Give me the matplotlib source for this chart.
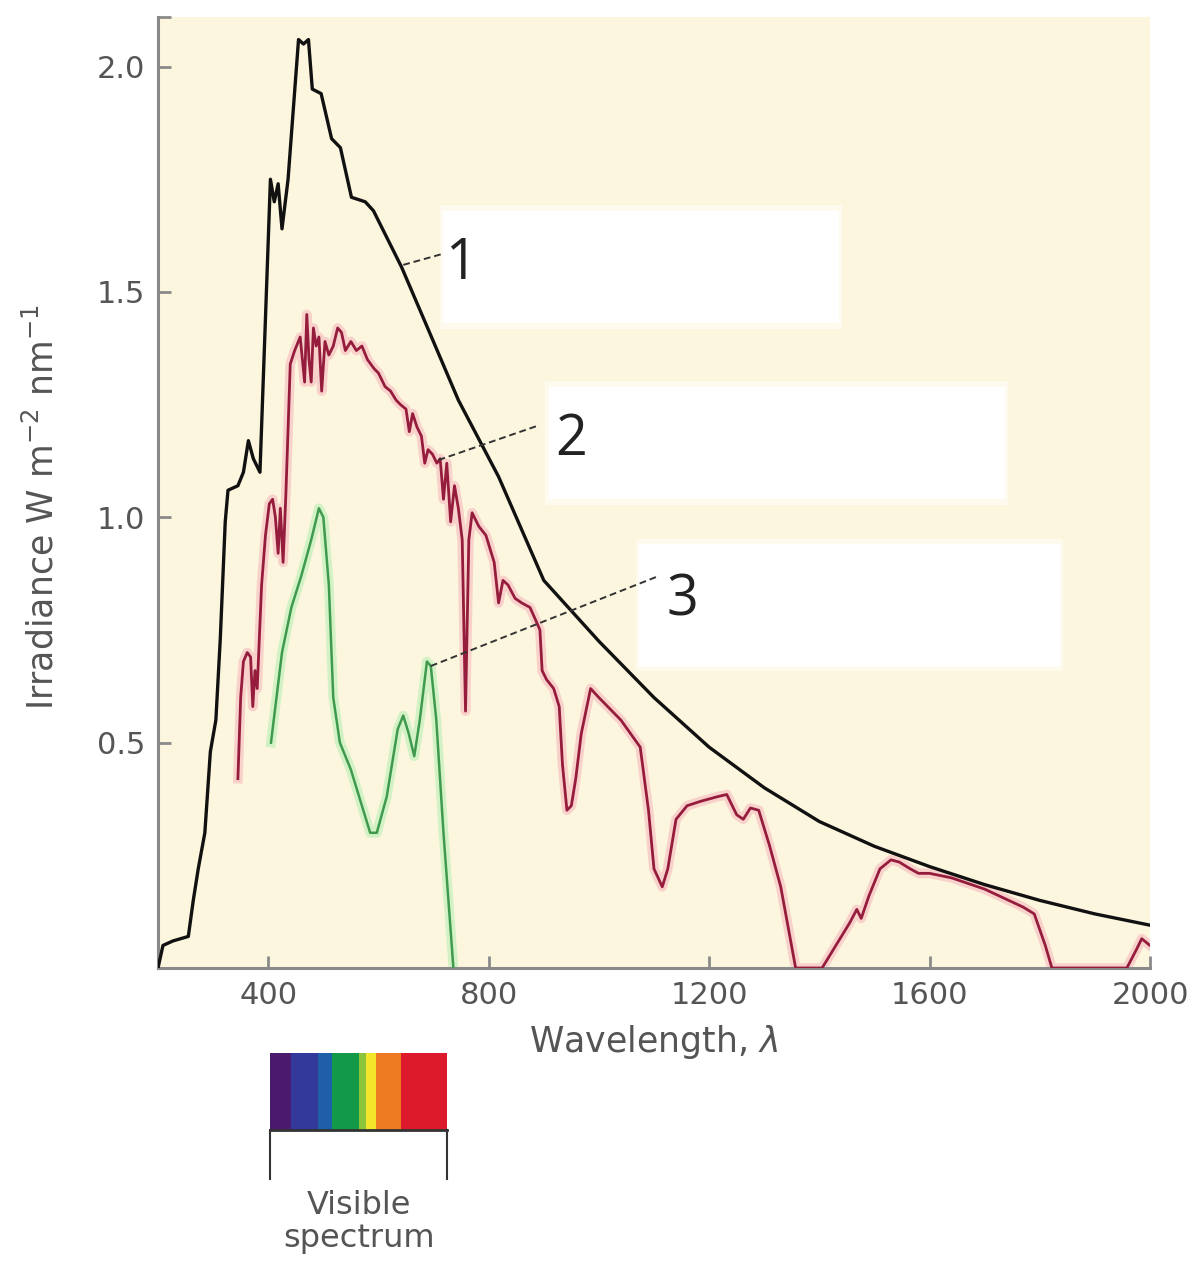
import matplotlib
matplotlib.use('Agg')
import matplotlib.pyplot as plt
from matplotlib.patches import Rectangle

# curve 1 - top of atmosphere
wl_1 = [200, 209, 227, 255, 264, 273, 285, 295, 305, 313, 322, 327, 345, 355, 364, 373, 385,
        404, 411, 418, 425, 436, 455, 464, 473, 480, 496, 515, 531, 551, 576, 591, 642, 691,
        745, 818, 900, 1000, 1100, 1200, 1300, 1400, 1500, 1600, 1700, 1800, 1900, 2000]
irr_1 = [0.0, 0.05, 0.06, 0.07, 0.15, 0.22, 0.30, 0.48, 0.55, 0.73, 0.99, 1.06, 1.07, 1.10, 1.17, 1.13, 1.10,
         1.75, 1.70, 1.74, 1.64, 1.75, 2.06, 2.05, 2.06, 1.95, 1.94, 1.84, 1.82, 1.71, 1.70, 1.68, 1.555, 1.415,
         1.26, 1.09, 0.86, 0.725, 0.60, 0.49, 0.40, 0.325, 0.27, 0.225, 0.185, 0.15, 0.12, 0.095]

# curve 2 - sea level
wl_2 = [345, 350, 355, 362, 368, 372, 376, 380, 388, 395, 402, 408, 413, 418, 422, 427, 432, 440,
        448, 458, 466, 470, 474, 478, 482, 487, 492, 497, 503, 510, 518, 526, 533, 540, 550, 560,
        570, 580, 592, 600, 612, 622, 632, 640, 650, 656, 662, 670, 678, 684, 690, 698, 706, 712,
        718, 724, 731, 738, 745, 752, 758, 764, 770, 782, 795, 810, 818, 826, 835, 848, 860, 875,
        886, 893, 897, 905, 918, 928, 934, 942, 950, 958, 968, 985, 1000, 1040, 1075, 1090, 1100,
        1115, 1125, 1140, 1160, 1185, 1215, 1232, 1250, 1262, 1275, 1290, 1310, 1330, 1345, 1357,
        1405, 1430, 1455, 1468, 1476, 1490, 1510, 1530, 1545, 1565, 1580, 1600, 1640, 1700, 1770,
        1790, 1810, 1822, 1958, 1975, 1985, 2000]
irr_2 = [0.42, 0.60, 0.68, 0.70, 0.69, 0.58, 0.66, 0.62, 0.85, 0.96, 1.03, 1.04, 1.00, 0.92, 1.02, 0.90, 1.05, 1.34,
         1.37, 1.40, 1.30, 1.45, 1.35, 1.30, 1.42, 1.38, 1.40, 1.28, 1.39, 1.36, 1.38, 1.42, 1.41, 1.37, 1.39, 1.37,
         1.38, 1.35, 1.33, 1.32, 1.29, 1.28, 1.26, 1.25, 1.24, 1.19, 1.23, 1.20, 1.18, 1.12, 1.15, 1.14, 1.12, 1.13,
         1.04, 1.12, 0.99, 1.07, 1.02, 0.95, 0.57, 0.95, 1.01, 0.98, 0.96, 0.90, 0.81, 0.86, 0.85, 0.82, 0.81, 0.80,
         0.77, 0.75, 0.66, 0.64, 0.62, 0.58, 0.45, 0.35, 0.36, 0.42, 0.52, 0.62, 0.60, 0.55, 0.49, 0.35, 0.22,
         0.18, 0.22, 0.33, 0.36, 0.37, 0.38, 0.385, 0.34, 0.33, 0.355, 0.35, 0.27, 0.18, 0.08, 0.0,
         0.0, 0.05, 0.10, 0.13, 0.11, 0.16, 0.22, 0.24, 0.235, 0.22, 0.21, 0.21, 0.20, 0.175, 0.135,
         0.12, 0.05, 0.0, 0.0, 0.04, 0.065, 0.05]

# curve 3 - under water
wl_3 = [405, 425, 442, 460, 478, 492, 500, 510, 518, 530, 550, 570, 585, 597, 615, 635, 645, 655,
        665, 675, 688, 695, 705, 718, 736]
irr_3 = [0.50, 0.70, 0.80, 0.87, 0.95, 1.02, 1.00, 0.85, 0.60, 0.50, 0.44, 0.36, 0.30, 0.30, 0.38, 0.53, 0.56, 0.52,
         0.47, 0.55, 0.68, 0.67, 0.55, 0.30, 0.0]

x_ticks = [400, 800, 1200, 1600, 2000]
y_ticks = [0.5, 1.0, 1.5, 2.0]

# label boxes (whited out in the original) and callouts
boxes = [(718, 1.43, 1436, 1.68), (909, 1.04, 1736, 1.29), (1073, 0.67, 1836, 0.94)]
labels = ['1', '2', '3']
leader_from = [(645, 1.56), (709, 1.127), (695, 0.67)]
leader_to = [(718, 1.585), (891, 1.204), (1109, 0.87)]
label_pos = [(750, 1.56), (950, 1.17), (1152, 0.815)]

# visible spectrum strip
spec_edges = [404, 441, 490, 516, 564, 577, 596, 641, 724]
spec_colors = ['#4a1a6e', '#33399a', '#1f5fa8', '#129a48', '#8cc43c', '#f2e52a', '#ee7a22', '#dc1a2c']

fig = plt.figure(figsize=(12.01, 12.69), dpi=100)
ax = fig.add_axes([158 / 1201, 1 - 968 / 1269, (1150 - 158) / 1201, (968 - 17) / 1269])
ax.set_facecolor('#fdf6de')

for (x0, y0, x1, y1) in boxes:
    ax.add_patch(Rectangle((x0 - 6, y0 - 0.012), x1 - x0 + 12, y1 - y0 + 0.024,
                           facecolor='white', edgecolor='none', alpha=0.5, zorder=1))
    ax.add_patch(Rectangle((x0, y0), x1 - x0, y1 - y0, facecolor='white', edgecolor='none', zorder=1))

ax.plot(wl_2, irr_2, color='#f3a5b5', lw=7, alpha=0.45, solid_joinstyle='round', zorder=2)
ax.plot(wl_3, irr_3, color='#b6f0b6', lw=7, alpha=0.6, solid_joinstyle='round', zorder=2)
ax.plot(wl_1, irr_1, color='#111111', lw=2.4, zorder=4)
ax.plot(wl_2, irr_2, color='#951c3c', lw=2.0, zorder=3)
ax.plot(wl_3, irr_3, color='#3f9a4e', lw=1.8, zorder=3)

for lab, p0, p1, pt in zip(labels, leader_from, leader_to, label_pos):
    ax.plot([p0[0], p1[0]], [p0[1], p1[1]], color='#333333', lw=1.4, ls=(0, (3.5, 2)), zorder=5)
    ax.text(pt[0], pt[1], lab, fontsize=40, family='Open Sans', color='#222222',
            ha='center', va='center', zorder=6)

ax.set_xlim(200, 2000)
ax.set_ylim(0, 2.11)
ax.set_xticks(x_ticks)
ax.set_yticks(y_ticks)
ax.set_yticks([2.11], minor=True)
ax.set_xticklabels([str(v) for v in x_ticks])
ax.set_yticklabels(['%.1f' % v for v in y_ticks])
ax.tick_params(which='both', direction='in', length=9, width=2, color='#8a8a8a',
               labelsize=22, labelcolor='#555555', pad=9)
ax.tick_params(which='minor', left=True)
for s in ['top', 'right']:
    ax.spines[s].set_visible(False)
for s in ['left', 'bottom']:
    ax.spines[s].set_color('#8a8a8a')
    ax.spines[s].set_linewidth(2.2)
for t in ax.get_xticklabels() + ax.get_yticklabels():
    t.set_family('DejaVu Sans')

ax.set_xlabel('Wavelength, $\\lambda$', fontsize=25, color='#555555', family='DejaVu Sans', labelpad=10)
ax.set_ylabel('Irradiance W m$^{-2}$ nm$^{-1}$', fontsize=25, color='#555555', family='DejaVu Sans')
ax.yaxis.set_label_coords(-0.098, 0.485)

# spectrum bar below axis, x in data units
trans = ax.get_xaxis_transform()
for i in range(len(spec_colors)):
    ax.add_patch(Rectangle((spec_edges[i], -0.170), spec_edges[i + 1] - spec_edges[i], 0.081,
                           facecolor=spec_colors[i], edgecolor='none', transform=trans, clip_on=False))
ax.plot([spec_edges[0], spec_edges[-1]], [-0.170, -0.170], color='#333333', lw=2, transform=trans, clip_on=False)
ax.plot([spec_edges[0], spec_edges[0]], [-0.170, -0.222], color='#333333', lw=1.5, transform=trans, clip_on=False)
ax.plot([spec_edges[-1], spec_edges[-1]], [-0.170, -0.222], color='#333333', lw=1.5, transform=trans, clip_on=False)
ax.text((spec_edges[0] + spec_edges[-1]) / 2, -0.267, 'Visible\nspectrum', transform=trans,
        ha='center', va='center', fontsize=23, color='#555555', family='DejaVu Sans', linespacing=1.05)

fig.savefig('out.png', dpi=100, facecolor='white')
